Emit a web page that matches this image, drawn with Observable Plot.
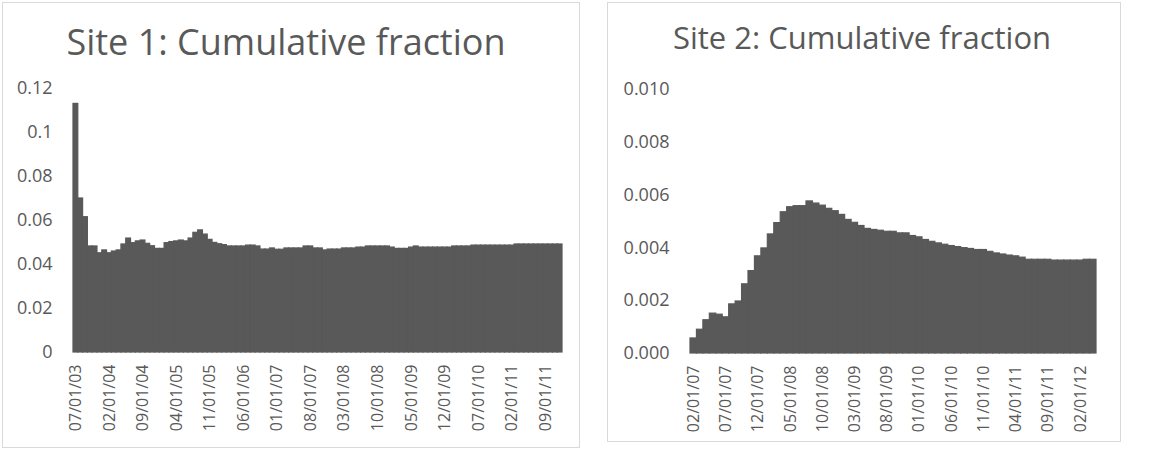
<!DOCTYPE html>
<html><head><meta charset="utf-8">
<script src="https://cdn.jsdelivr.net/npm/d3@7"></script>
<script src="https://cdn.jsdelivr.net/npm/@observablehq/plot@0.6"></script>
<style>
body{margin:0;background:#fff;font-family:"Open Sans",sans-serif;}
#root{position:relative;width:1170px;height:451px;overflow:hidden;background:#fff;}
.panel{position:absolute;box-sizing:border-box;border:1px solid #d9d9d9;background:#fff;}
.title{position:absolute;color:#595959;white-space:nowrap;line-height:1;transform:translateX(-50%);}
.panel svg{position:absolute;left:0;top:0;}
</style></head><body>
<div id="root">
  <div class="panel" id="p1" style="left:2px;top:2px;width:578px;height:446px">
    <div class="title" style="left:283px;top:21px;font-size:36px">Site 1: Cumulative fraction</div>
  </div>
  <div class="panel" id="p2" style="left:607px;top:2px;width:514px;height:440px">
    <div class="title" style="left:254px;top:19px;font-size:31px">Site 2: Cumulative fraction</div>
  </div>
</div>
<script>
// ---- Site 1 data (monthly, 07/2003 – 12/2011) ----
const site1Start = [2003, 6];   // July 2003
const site1End = [2012, 0];     // exclusive: Jan 2012
const site1Values = [
  0.113, 0.070, 0.0615, 0.0482, 0.0482, 0.0451, 0.0464, 0.0451, 0.0459, 0.0464,
  0.0491, 0.0518, 0.0497, 0.0505, 0.0509, 0.0494, 0.0483, 0.0471, 0.0471, 0.0497,
  0.0502, 0.0505, 0.0509, 0.0505, 0.0518, 0.0544, 0.0555, 0.0536, 0.0512, 0.0498,
  0.0492, 0.0488, 0.0482, 0.0482, 0.0482, 0.0482, 0.0486, 0.0486, 0.0482, 0.0468,
  0.0468, 0.0473, 0.0467, 0.0467, 0.0473, 0.0473, 0.0473, 0.0473, 0.0482, 0.0482,
  0.0473, 0.0473, 0.0464, 0.0468, 0.0468, 0.0468, 0.0473, 0.0473, 0.0473, 0.0477,
  0.0477, 0.0482, 0.0482, 0.0482, 0.0482, 0.0482, 0.0477, 0.0471, 0.0471, 0.0471,
  0.0477, 0.0482, 0.0477, 0.0477, 0.0477, 0.0477, 0.0477, 0.0477, 0.0477, 0.0482,
  0.0482, 0.0482, 0.0482, 0.0486, 0.0486, 0.0486, 0.0486, 0.0486, 0.0486, 0.0486,
  0.0486, 0.0486, 0.0491, 0.0491, 0.0491, 0.0491, 0.0491, 0.0491, 0.0491, 0.0491,
  0.0491, 0.0491
];
const site1TickLabels = ["07/01/03","02/01/04","09/01/04","04/01/05","11/01/05","06/01/06","01/01/07","08/01/07","03/01/08","10/01/08","05/01/09","12/01/09","07/01/10","02/01/11","09/01/11"];
const site1YTicks = [0, 0.02, 0.04, 0.06, 0.08, 0.1, 0.12];

// ---- Site 2 data (monthly, 02/2007 – 04/2012) ----
const site2Start = [2007, 1];   // Feb 2007
const site2End = [2012, 4];     // exclusive: May 2012
const site2Values = [
  0.00057, 0.00090, 0.00126, 0.00151, 0.00147, 0.00137, 0.00186, 0.00197, 0.00262, 0.00312,
  0.00368, 0.00398, 0.00451, 0.00494, 0.00535, 0.00554, 0.00558, 0.00558, 0.00576, 0.00568,
  0.00560, 0.00548, 0.00539, 0.00525, 0.00506, 0.00495, 0.00483, 0.00472, 0.00468, 0.00465,
  0.00461, 0.00461, 0.00455, 0.00455, 0.00445, 0.00440, 0.00430, 0.00423, 0.00417, 0.00412,
  0.00407, 0.00403, 0.00399, 0.00396, 0.00392, 0.00392, 0.00385, 0.00379, 0.00375, 0.00371,
  0.00368, 0.00363, 0.00355, 0.00355, 0.00355, 0.00355, 0.00352, 0.00352, 0.00352, 0.00352,
  0.00352, 0.00355, 0.00355
];
const site2TickLabels = ["02/01/07","07/01/07","12/01/07","05/01/08","10/01/08","03/01/09","08/01/09","01/01/10","06/01/10","11/01/10","04/01/11","09/01/11","02/01/12"];
const site2YTicks = [0, 0.002, 0.004, 0.006, 0.008, 0.010];

const barColor = "#595959";
const textColor = "#595959";
const fmtMonth = d3.utcFormat("%m/%d/%y");

function months(start, end) {
  return d3.utcMonth.range(new Date(Date.UTC(start[0], start[1], 1)), new Date(Date.UTC(end[0], end[1], 1))).map(fmtMonth);
}

function makeChart({cats, values, xTicks, yTicks, yDomain, yFormat, width, height, margins}) {
  const rows = cats.map((c, i) => ({month: c, value: values[i]}));
  return Plot.plot({
    width, height,
    marginLeft: margins[0], marginRight: margins[1], marginTop: margins[2], marginBottom: margins[3],
    style: {fontFamily: '"Open Sans", sans-serif', color: textColor, background: "transparent", overflow: "visible"},
    x: {type: "band", domain: cats, padding: 0, round: false},
    y: {domain: yDomain},
    marks: [
      Plot.barY(rows, {x: "month", y: "value", fill: barColor, stroke: barColor, strokeWidth: 1.2}),
      Plot.axisY({ticks: yTicks, tickFormat: yFormat, tickSize: 0, tickPadding: 21, fontSize: 18, fill: textColor, label: null}),
      Plot.axisX({ticks: xTicks, tickRotate: -90, tickSize: 0, tickPadding: 12, fontSize: 16, fill: textColor, label: null})
    ]
  });
}

const c1 = makeChart({
  cats: months(site1Start, site1End), values: site1Values,
  xTicks: site1TickLabels, yTicks: site1YTicks, yDomain: [0, 0.12],
  yFormat: d => String(+d.toFixed(2)),
  width: 576, height: 444, margins: [70, 17, 85, 95]
});
document.getElementById("p1").appendChild(c1);

const c2 = makeChart({
  cats: months(site2Start, site2End), values: site2Values,
  xTicks: site2TickLabels, yTicks: site2YTicks, yDomain: [0, 0.010],
  yFormat: d3.format(".3f"),
  width: 512, height: 438, margins: [82, 24, 86, 88]
});
document.getElementById("p2").appendChild(c2);
</script>
</body></html>
